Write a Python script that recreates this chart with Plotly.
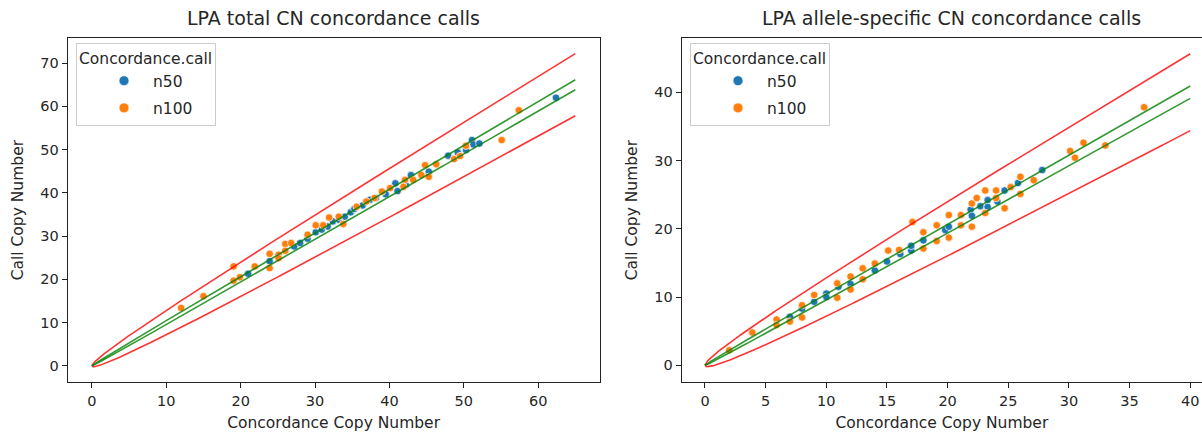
import numpy as np
import plotly.graph_objects as go

# ---------------- data ----------------
total_n50_x = [21.0, 23.9, 27.2, 28.0, 29.0, 30.1, 30.9, 31.7, 32.4, 33.2, 34.0, 34.8, 35.3, 36.4,
               37.4, 38.2, 39.5, 40.8, 41.1, 42.2, 42.9, 45.3, 47.9, 49.2, 50.3, 51.1, 51.3, 52.1, 62.4]
total_n50_y = [21.3, 24.2, 27.6, 28.4, 29.4, 30.9, 31.5, 32.2, 33.4, 33.8, 34.5, 35.5, 36.3, 37.1,
               38.4, 38.8, 39.7, 42.2, 40.4, 41.8, 44.1, 44.9, 48.6, 49.3, 49.9, 52.2, 51.2, 51.4, 62.0]
total_n100_x = [12.0, 15.0, 19.05, 19.05, 19.9, 21.9, 23.9, 23.9, 25.1, 25.1, 26.0, 26.0, 26.8, 29.0,
                30.1, 31.1, 31.9, 33.8, 33.2, 35.6, 36.9, 38.0, 39.0, 40.1, 42.1, 41.9, 43.2, 44.3,
                44.8, 45.3, 46.3, 48.7, 49.5, 50.3, 55.1, 57.4]
total_n100_y = [13.4, 16.1, 23.0, 19.7, 20.5, 23.0, 25.9, 22.6, 25.7, 24.9, 28.2, 26.6, 28.4, 30.3,
                32.5, 32.5, 34.3, 32.8, 34.5, 36.8, 38.0, 38.8, 40.3, 41.1, 43.0, 41.4, 43.0, 44.1,
                46.4, 43.7, 46.6, 47.8, 48.5, 50.9, 52.2, 59.1]

allele_n50_x = [7.0, 8.0, 9.0, 10.0, 10.0, 11.0, 12.0, 14.0, 15.0, 16.1, 17.0, 17.0, 18.0, 19.8,
                20.1, 21.9, 22.0, 22.7, 23.3, 23.3, 24.1, 24.7, 25.8, 27.8]
allele_n50_y = [7.1, 8.3, 9.3, 10.5, 10.0, 11.5, 11.9, 13.9, 15.2, 16.3, 16.8, 17.5, 18.3, 19.8,
                20.3, 22.8, 21.9, 23.3, 24.2, 23.2, 24.0, 25.6, 26.7, 28.6]
allele_n100_x = [2.0, 3.9, 5.9, 5.9, 7.0, 8.0, 8.0, 9.0, 10.9, 10.9, 12.0, 12.0, 13.0, 13.0, 14.0,
                 15.1, 16.0, 17.1, 18.0, 18.0, 19.1, 19.1, 20.1, 20.1, 21.1, 21.1, 22.0, 22.0, 22.4,
                 23.1, 23.1, 24.0, 24.0, 24.7, 25.2, 26.0, 26.0, 27.1, 30.1, 30.5, 31.2, 33.0, 36.2]
allele_n100_y = [2.2, 4.8, 6.7, 5.9, 6.4, 7.0, 8.8, 10.3, 9.9, 12.0, 11.1, 13.0, 14.2, 12.6, 14.9,
                 16.8, 16.9, 21.0, 19.5, 17.1, 20.5, 18.2, 22.0, 18.7, 22.0, 20.5, 23.7, 20.3, 24.5,
                 25.6, 22.3, 25.6, 24.5, 23.0, 26.1, 27.6, 25.1, 27.1, 31.4, 30.4, 32.6, 32.2, 37.8]

# concordance bands: y = x +/- k*sqrt(x)
outer_k = 0.89
inner_k = 0.143
total_xmax = 65
allele_xmax = 40

titles = ["LPA total CN concordance calls", "LPA allele-specific CN concordance calls"]
x_label = "Concordance Copy Number"
y_label = "Call Copy Number"
legend_title = "Concordance.call"
groups = ["n50", "n100"]
colors = {"n50": "#1f77b4", "n100": "#ff7f0e"}

# ---------------- layout geometry ----------------
W, H = 1202, 433
def fx(px):
    return px / W
def fy(py):
    return 1 - py / H

FONT = "DejaVu Sans"
TXT = "#262626"
FS_TICK = 14.5
FS_LABEL = 15.5
FS_TITLE = 19

ax_top, ax_bot = 38, 382.3
dom_y = [fy(ax_bot), fy(ax_top)]
dom_x1 = [fx(67.7), fx(599.5)]
dom_x2 = [fx(681.7), 1.0]

fig = go.Figure()

panels = [
    dict(xa="x", ya="y", legend="legend", xmax=total_xmax,
         data={"n50": (total_n50_x, total_n50_y), "n100": (total_n100_x, total_n100_y)}),
    dict(xa="x2", ya="y2", legend="legend2", xmax=allele_xmax,
         data={"n50": (allele_n50_x, allele_n50_y), "n100": (allele_n100_x, allele_n100_y)}),
]

for p in panels:
    for g in groups:
        xs, ys = p["data"][g]
        fig.add_trace(go.Scatter(
            x=xs, y=ys, mode="markers", name=g, xaxis=p["xa"], yaxis=p["ya"],
            showlegend=False,
            marker=dict(color=colors[g], size=7.5, line=dict(color="white", width=0.7)),
        ))
    xc = np.linspace(0, p["xmax"], 400)
    for k, col in [(outer_k, "rgba(255,0,0,0.8)"), (inner_k, "rgba(0,128,0,0.8)")]:
        for sign in (1, -1):
            fig.add_trace(go.Scatter(
                x=xc, y=xc + sign * k * np.sqrt(xc), mode="lines", xaxis=p["xa"], yaxis=p["ya"],
                line=dict(color=col, width=1.6), showlegend=False, hoverinfo="skip",
            ))
    # legend entries (larger symbols, like the reference legend)
    for g in groups:
        fig.add_trace(go.Scatter(
            x=[None], y=[None], mode="markers", name=g, xaxis=p["xa"], yaxis=p["ya"],
            legend=p["legend"], legendgroup=g, showlegend=True,
            marker=dict(color=colors[g], size=10, line=dict(color="white", width=0.7)),
        ))

axis_common = dict(
    showgrid=False, zeroline=False, showline=True, linecolor="#222", linewidth=1.2,
    ticks="outside", ticklen=5, tickwidth=1.2, tickcolor="#222",
    tickfont=dict(family=FONT, size=FS_TICK, color=TXT),
    title_font=dict(family=FONT, size=FS_LABEL, color=TXT),
)

legend_common = dict(
    bgcolor="rgba(255,255,255,0.8)", bordercolor="#cccccc", borderwidth=1,
    font=dict(family=FONT, size=FS_LABEL, color=TXT),
    title=dict(text=legend_title, font=dict(family=FONT, size=FS_LABEL, color=TXT)),
    xanchor="left", yanchor="top", itemwidth=48, indentation=18,
    traceorder="grouped", tracegroupgap=4,
)

fig.update_layout(
    width=W, height=H, margin=dict(l=0, r=0, t=0, b=0),
    paper_bgcolor="white", plot_bgcolor="white",
    font=dict(family=FONT, size=FS_TICK, color=TXT),
    xaxis=dict(domain=dom_x1, range=[-3.25, 68.25], tickvals=list(range(0, 61, 10)),
               mirror=True, anchor="y", title=dict(text=x_label, standoff=9), **axis_common),
    yaxis=dict(domain=dom_y, range=[-3.8, 75.8], tickvals=list(range(0, 71, 10)),
               mirror=True, anchor="x", title=dict(text=y_label, standoff=12), **axis_common),
    xaxis2=dict(domain=dom_x2, range=[-1.92, 40.97], tickvals=list(range(0, 41, 5)),
                mirror=True, anchor="y2", title=dict(text=x_label, standoff=9), **axis_common),
    yaxis2=dict(domain=dom_y, range=[-2.49, 47.94], tickvals=list(range(0, 41, 10)),
                mirror=False, anchor="x2", title=dict(text=y_label, standoff=12), **axis_common),
    legend=dict(x=fx(76), y=fy(43), **legend_common),
    legend2=dict(x=fx(690), y=fy(43), **legend_common),
    annotations=[
        dict(text=titles[0], x=(dom_x1[0] + dom_x1[1]) / 2, y=fy(18), xref="paper", yref="paper",
             showarrow=False, font=dict(family=FONT, size=FS_TITLE, color=TXT),
             xanchor="center", yanchor="middle"),
        dict(text=titles[1], x=fx(951), y=fy(18), xref="paper", yref="paper",
             showarrow=False, font=dict(family=FONT, size=FS_TITLE, color=TXT),
             xanchor="center", yanchor="middle"),
    ],
)

fig.write_html("out.html")
